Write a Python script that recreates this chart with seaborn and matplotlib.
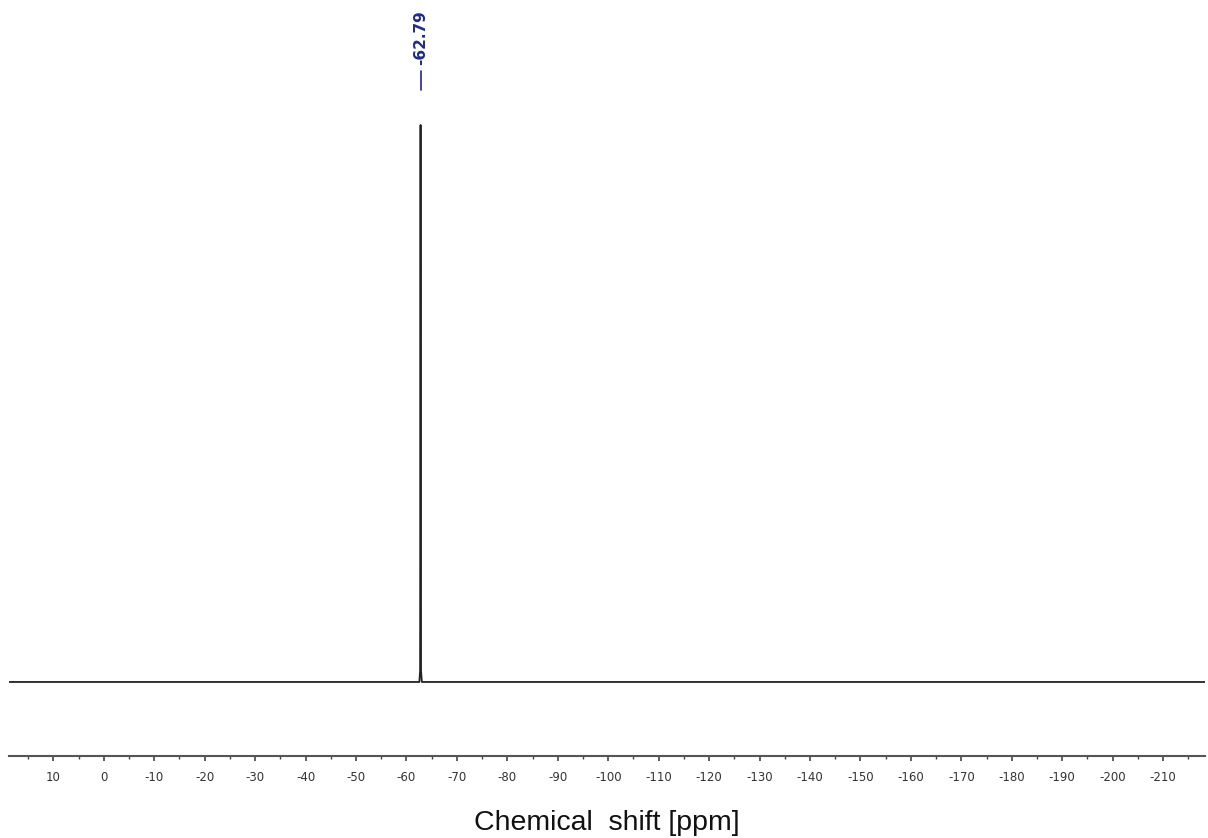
import seaborn as sns
import pandas as pd
import matplotlib.pyplot as plt
from matplotlib.ticker import MultipleLocator

# spectrum points (ppm, normalised intensity)
ppm = [18.8, -62.55, -62.70, -62.79, -62.88, -63.05, -218.3]
intensity = [0.0, 0.0, 0.02, 1.0, 0.02, 0.0, 0.0]
peak_labels = [-62.79]

df = pd.DataFrame({"ppm": ppm, "intensity": intensity})

sns.set_theme(style="white")
plt.rcParams['font.family'] = ['DejaVu Sans']

fig = plt.figure(figsize=(12.08, 8.38), dpi=100)
ax = fig.add_axes([9 / 1208, 82 / 838, 1196 / 1208, 756 / 838])

sns.lineplot(data=df, x="ppm", y="intensity", ax=ax, color="#222222",
             linewidth=1.3, sort=False, estimator=None)

ax.set_xlim(18.8, -218.3)
ax.set_ylim(-0.1329, 1.2244)

for p in peak_labels:
    ax.plot([p, p], [1.063, 1.097], color="#1f2a8a", linewidth=1.2)
    ax.text(p, 1.108, f"{p:.2f}", rotation=90, ha="center", va="bottom",
            color="#1f2a8a", fontsize=11, fontweight="bold")

for s in ["top", "left", "right"]:
    ax.spines[s].set_visible(False)
ax.spines["bottom"].set_color("#555555")
ax.spines["bottom"].set_linewidth(1.5)

ax.xaxis.set_major_locator(MultipleLocator(10))
ax.xaxis.set_minor_locator(MultipleLocator(5))
ax.tick_params(axis="x", which="major", direction="out", length=3.5, width=1.2,
               color="#444444", labelsize=8.5, labelcolor="#333333", pad=7,
               bottom=True)
ax.tick_params(axis="x", which="minor", direction="out", length=2.5, width=1.0,
               color="#444444", bottom=True)
ax.set_yticks([])
ax.set_ylabel("")
ax.set_xticklabels([f"{int(t)}" for t in ax.get_xticks()])
ax.set_xlabel("Chemical  shift [ppm]", fontsize=20.5, labelpad=19,
              color="#111111", fontfamily="Liberation Sans")

fig.savefig("out.png", dpi=100)
